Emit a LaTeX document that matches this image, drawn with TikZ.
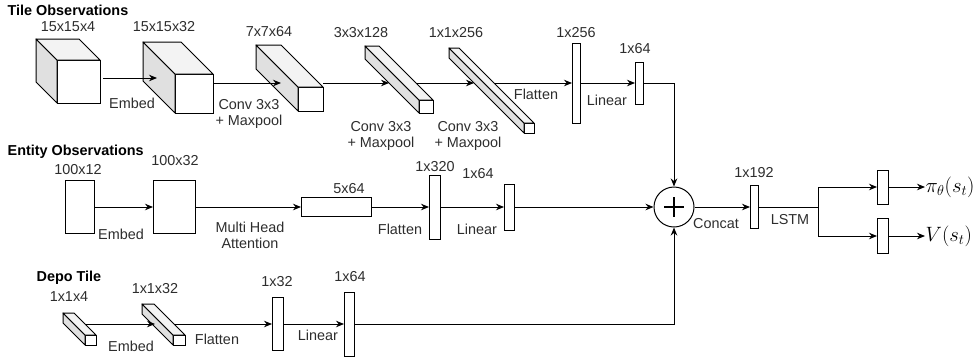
\documentclass[tikz,border=0pt]{standalone}
\usepackage{fontspec}
\setmainfont{Liberation Sans}
\usetikzlibrary{arrows.meta}

\definecolor{nettext}{RGB}{45, 45, 45}
\definecolor{facetop}{RGB}{243, 243, 243}
\definecolor{faceside}{RGB}{224, 224, 224}

\begin{document}
\begin{tikzpicture}[x=1pt, y=-1pt,
    every node/.style={font=\fontsize{14.4}{16}\selectfont, text=nettext, inner sep=0.5pt},
    layer/.style={draw, fill=white, line width=1pt, inner sep=0pt, outer sep=0pt},
    topface/.style={draw, fill=facetop, line width=1pt, line join=round},
    sideface/.style={draw, fill=faceside, line width=1pt, line join=round},
    flow/.style={-{Stealth[length=8pt, width=6.5pt]}, line width=1pt},
    wire/.style={line width=1pt},
    title/.style={font=\fontsize{14.4}{16}\selectfont\bfseries, text=black, anchor=west}]
  \useasboundingbox (0,0) rectangle (975,360);

  % titles
  \node[title] (tileT) at (7,10) {Tile Observations};
  \node[title] (entT) at (7,152) {Entity Observations};
  \node[title] (depoT) at (36,278) {Depo Tile};

  % tile observations: front faces
  \node[layer, minimum width=43, minimum height=43] (tA) at (78.5,81.5) {};
  \node[layer, minimum width=38, minimum height=39] (tB) at (194,93.5) {};
  \node[layer, minimum width=25, minimum height=24] (tC) at (310.5,99) {};
  \node[layer, minimum width=14, minimum height=13] (tD) at (426,106.5) {};
  \node[layer, minimum width=10, minimum height=10] (tE) at (529,128) {};
  \node[layer, minimum width=8, minimum height=80] (tF) at (576,83) {};
  \node[layer, minimum width=8, minimum height=42] (tG) at (639,83) {};

  % entity observations
  \node[layer, minimum width=29, minimum height=53] (eA) at (79.5,207) {};
  \node[layer, minimum width=42, minimum height=53] (eB) at (174,207) {};
  \node[layer, minimum width=70, minimum height=19] (eC) at (336,207) {};
  \node[layer, minimum width=11, minimum height=64] (eD) at (434.5,207) {};
  \node[layer, minimum width=10, minimum height=46] (eE) at (509,207) {};

  % depo tile
  \node[layer, minimum width=11, minimum height=10] (dA) at (90.5,340) {};
  \node[layer, minimum width=12, minimum height=10] (dB) at (179,340) {};
  \node[layer, minimum width=11, minimum height=53] (dC) at (277.5,324) {};
  \node[layer, minimum width=10, minimum height=64] (dD) at (349,324) {};

  % depth faces of the boxes
  \foreach \n/\d in {tA/21, tB/32, tC/42, tD/54, tE/75, dA/22, dB/31} {
    \filldraw[sideface] (\n.north west) -- ++(-\d,-\d)
      -- ([shift={(-\d,-\d)}]\n.south west) -- (\n.south west) -- cycle;
    \filldraw[topface] (\n.north west) -- ++(-\d,-\d)
      -- ([shift={(-\d,-\d)}]\n.north east) -- (\n.north east) -- cycle;
  }

  % sum, head and outputs
  \node[draw, circle, line width=1pt, minimum size=40, inner sep=0pt] (sum) at (674,207) {};
  \draw[line width=2.2pt] (664,207) -- (684,207) (674,197) -- (674,217);
  \node[layer, minimum width=8, minimum height=43] (rB) at (754,207) {};
  \node[layer, minimum width=11, minimum height=34] (pB) at (882.5,187) {};
  \node[layer, minimum width=11, minimum height=35] (vB) at (882.5,236) {};
  \node[right, text=black, font=\fontsize{19.5}{22}\selectfont] (piL) at (925,187) {$\pi_\theta(s_t)$};
  \node[right, text=black, font=\fontsize{19.5}{22}\selectfont] (vL) at (925,236) {$V(s_t)$};

  % ports on the slanted boxes
  \coordinate (tAout) at (103,78);
  \coordinate (tBin) at (157,78);
  \coordinate (tBout) at (213,83);
  \coordinate (tCin) at (281,83);
  \coordinate (tCout) at (323,83);
  \coordinate (tDin) at (389,83);
  \coordinate (tDout) at (416,83);
  \coordinate (tEin) at (474,83);
  \coordinate (tEout) at (495,83);
  \coordinate (dAout) at (86,324);
  \coordinate (dBin) at (155,324);
  \coordinate (dBout) at (174,324);
  \coordinate (split) at (818,207);

  % tile connectors
  \draw[flow] (tAout) -- (tBin);
  \draw[flow] (tBout) -- (tCin);
  \draw[flow] (tCout) -- (tDin);
  \draw[flow] (tDout) -- (tEin);
  \draw[flow] (tEout) -- (tF.west);
  \draw[flow] (tF.east) -- (tG.west);
  \draw[flow] (tG.east) -| (sum.north);

  % entity connectors
  \draw[flow] (eA.east) -- (eB.west);
  \draw[flow] (eB.east) -- (eC.west);
  \draw[flow] (eC.east) -- (eD.west);
  \draw[flow] (eD.east) -- (eE.west);
  \draw[flow] (eE.east) -- (sum.west);

  % depo connectors
  \draw[flow] (dAout) -- (dBin);
  \draw[flow] (dBout) -- (dC.west);
  \draw[flow] (dC.east) -- (dD.west);
  \draw[flow] (dD.east) -| (sum.south);

  % head connectors
  \draw[flow] (sum.east) -- (rB.west);
  \draw[wire] (rB.east) -- (split);
  \draw[flow] (split) |- (pB.west);
  \draw[flow] (split) |- (vB.west);
  \draw[flow] (pB.east) -- (piL.west);
  \draw[flow] (vB.east) -- (vL.west);

  % shape labels
  \node (sA) at (68,27) {15x15x4};
  \node (sB) at (164,27) {15x15x32};
  \node (sC) at (269,32) {7x7x64};
  \node (sD) at (361,33) {3x3x128};
  \node (sE) at (456,33) {1x1x256};
  \node (sF) at (576,33) {1x256};
  \node (sG) at (635,49) {1x64};
  \node (sH) at (78,170) {100x12};
  \node (sI) at (175,161) {100x32};
  \node (sJ) at (349,189) {5x64};
  \node (sK) at (435,167) {1x320};
  \node (sL) at (478,174) {1x64};
  \node (sM) at (69,297) {1x1x4};
  \node (sN) at (155,289) {1x1x32};
  \node (sO) at (277,282) {1x32};
  \node (sP) at (350,277) {1x64};
  \node (sQ) at (754,173) {1x192};

  % operation labels
  \node (oA) at (132,103) {Embed};
  \node[align=center] (oB) at (249,114) {Conv 3x3\\+ Maxpool};
  \node[align=center] (oC) at (381,136) {Conv 3x3\\+ Maxpool};
  \node[align=center] (oD) at (468,136) {Conv 3x3\\+ Maxpool};
  \node (oE) at (536,94) {Flatten};
  \node (oF) at (607,100) {Linear};
  \node (oG) at (121,234) {Embed};
  \node[align=center] (oH) at (250,235) {Multi Head\\Attention};
  \node (oI) at (400,229) {Flatten};
  \node (oJ) at (477,229) {Linear};
  \node (oK) at (131,346) {Embed};
  \node (oL) at (217,339) {Flatten};
  \node (oM) at (318,335) {Linear};
  \node (oN) at (716,224) {Concat};
  \node (oO) at (790,220) {LSTM};
\end{tikzpicture}
\end{document}
